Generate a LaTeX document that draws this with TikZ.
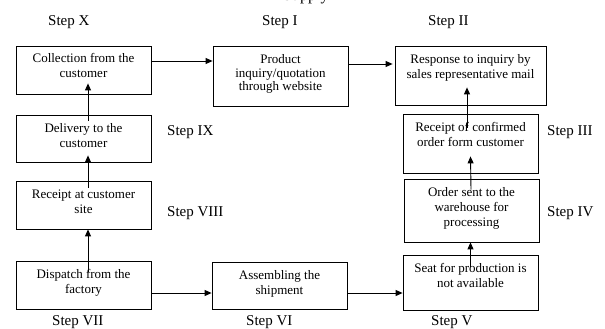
\documentclass[tikz,border=0pt]{standalone}
\usepackage{fontspec}
\setmainfont{Liberation Serif}
\usetikzlibrary{arrows.meta}
\newcommand{\bxt}[4][15pt]{\parbox[c][#3][t]{#2}{\centering\fontsize{13}{#1}\selectfont\rule{0pt}{17pt}#4}}
\tikzset{
  box/.style={draw, line width=0.8pt, inner sep=0pt},
  steplbl/.style={font=\fontsize{15}{18}\selectfont, inner sep=0pt, anchor=base west},
  arr/.style={line width=0.9pt, -{Triangle[length=7pt,width=6pt]}},
}
\begin{document}
\begin{tikzpicture}[x=1pt,y=-1pt]
\useasboundingbox (0,0) rectangle (605,329);
\fill[white] (0,0) rectangle (605,329);
\begin{scope}
\clip (0,0) rectangle (605,329);
\node[inner sep=0pt, anchor=base west, font=\fontsize{16}{19}\selectfont] (title) at (283,0.3) {Supply};
\end{scope}

% boxes
\node[box] (col)   at (83.5,70)    {\bxt{135pt}{48pt}{Collection from the\\customer}};
\node[box] (prod)  at (280.5,76)   {\bxt[14pt]{135pt}{60pt}{Product\\inquiry/quotation\\through website}};
\node[box] (resp)  at (470.5,75.5) {\bxt{151pt}{59pt}{Response to inquiry by\\sales representative mail}};
\node[box] (deliv) at (83.5,138.5) {\bxt{135pt}{47pt}{Delivery to the\\customer}};
\node[box] (rsite) at (83.5,205)   {\bxt{135pt}{48pt}{Receipt at customer\\site}};
\node[box] (disp)  at (83.5,285)   {\bxt{135pt}{48pt}{Dispatch from the\\factory}};
\node[box] (asm)   at (279.5,285.5){\bxt{135pt}{47pt}{Assembling the\\shipment}};
\node[box] (seat)  at (470.5,282.5){\bxt{135pt}{55pt}{Seat for production is\\not available}};
\node[box] (order) at (471.5,210.5){\bxt{135pt}{63pt}{Order sent to the\\warehouse for\\processing}};
\node[box] (conf)  at (470.5,143.5){\bxt{135pt}{59pt}{Receipt of confirmed\\order form customer}};

% step labels
\node[steplbl] (sX)    at (48,26)   {Step X};
\node[steplbl] (sI)    at (262,26)  {Step I};
\node[steplbl] (sII)   at (428,26)  {Step II};
\node[steplbl] (sIX)   at (167,135) {Step IX};
\node[steplbl] (sVIII) at (167,216) {Step VIII};
\node[steplbl] (sIII)  at (547,135) {Step III};
\node[steplbl] (sIV)   at (547,216) {Step IV};
\node[steplbl] (sVII)  at (52,325)  {Step VII};
\node[steplbl] (sVI)   at (246,325) {Step VI};
\node[steplbl] (sV)    at (431,325) {Step V};

% helper rows
\coordinate (r1) at (0,61);
\coordinate (r2) at (0,64);
\coordinate (r3) at (0,293);

% connectors
\draw[arr] (col.east |- r1) -- (prod.west |- r1);
\draw[arr, shorten >=2pt] (prod.east |- r2) -- (resp.west |- r2);
\draw[arr] ([xshift=4.5pt,yshift=-6pt]deliv.north) -- ([xshift=4.5pt,yshift=11pt]col.south);
\draw[arr] ([xshift=4.5pt,yshift=-7pt]rsite.north) -- ([xshift=4.5pt,yshift=7pt]deliv.south);
\draw[arr] ([xshift=4.5pt,yshift=-11pt]disp.north) -- ([xshift=4.5pt]rsite.south);
\draw[arr] (disp.east |- r3) -- (asm.west |- r3);
\draw[arr] (asm.east |- r3) -- (seat.west |- r3);
\draw[arr] ([yshift=-12pt]seat.north) -- ([xshift=-1pt]order.south);
\draw[arr] ([xshift=-0.5pt,yshift=-11pt]order.north) -- ([yshift=17pt]conf.south);
\draw[arr] ([xshift=-3.5pt,yshift=-14pt]conf.north) -- ([xshift=-3.5pt,yshift=18pt]resp.south);
\end{tikzpicture}
\end{document}
